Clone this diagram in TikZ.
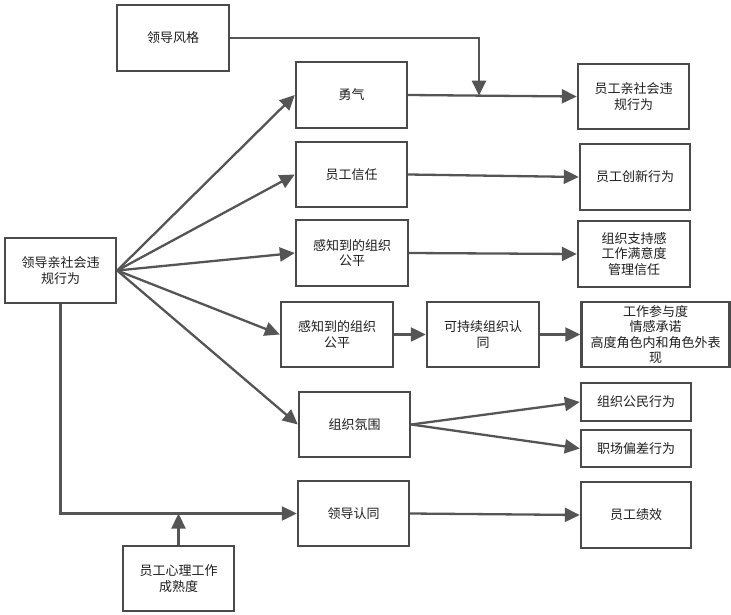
\documentclass[tikz,border=0pt]{standalone}
\usepackage{fontspec}
\setmainfont{Noto Sans CJK SC}
\usetikzlibrary{arrows.meta,calc}
\definecolor{ln}{HTML}{555555}
\definecolor{bd}{HTML}{4A4A4A}
\definecolor{tx}{HTML}{1E1E1E}
\tikzset{
  box/.style={draw=bd, line width=2.4pt, fill=white, text=tx, align=center,
    font=\fontsize{13}{15.5}\selectfont, inner sep=1pt},
  conn/.style={draw=ln, line width=2.3pt, -{Triangle[length=15pt,width=14pt]}},
}
\newcommand{\bx}[6]{\node[box, minimum width=#4pt, minimum height=#5pt, text width=#4pt-6pt] (#1) at (#2,#3) {#6};}
\begin{document}
\begin{tikzpicture}[x=1pt,y=-1pt]
\useasboundingbox (0,0) rectangle (731,615);
\bx{fg}{173}{38}{112}{66}{领导风格}
\bx{yq}{351.5}{95}{111}{66}{勇气}
\bx{outa}{633.5}{96.5}{111}{65}{员工亲社会违\\规行为}
\bx{xr}{351.5}{174.5}{111}{65}{员工信任}
\bx{outb}{635}{177}{110}{66}{员工创新行为}
\bx{gza}{352}{253}{112}{66}{感知到的组织\\公平}
\bx{outc}{634}{254}{112}{66}{组织支持感\\工作满意度\\管理信任}
\bx{src}{60.5}{270.5}{111}{65}{领导亲社会违\\规行为}
\bx{gzb}{337}{334.5}{112}{65}{感知到的组织\\公平}
\bx{kcx}{483}{334.5}{112}{65}{可持续组织认\\同}
\bx{outd}{655.5}{334.5}{148}{65}{工作参与度\\情感承诺\\高度角色内和角色外表\\现}
\bx{fw}{354.5}{424.5}{111}{65}{组织氛围}
\bx{gm}{636}{402}{110}{38}{组织公民行为}
\bx{pc}{636}{448.5}{110}{37}{职场偏差行为}
\bx{rt}{353.5}{513.5}{111}{65}{领导认同}
\bx{jx}{636}{515}{110}{66}{员工绩效}
\bx{xl}{178.5}{578.5}{111}{65}{员工心理工作\\成熟度}
% connectors
\draw[conn] (src.east) -- (yq.west);
\draw[conn] (src.east) -- (xr.west);
\draw[conn] (src.east) -- (gza.west);
\draw[conn] (src.east) -- (gzb.west);
\draw[conn] (src.east) -- (fw.west);
\draw[conn] (yq.east) -- (outa.west);
\draw[conn] (xr.east) -- (outb.west);
\draw[conn] (gza.east) -- (outc.west);
\draw[conn] (gzb.east) -- (kcx.west);
\draw[conn] (kcx.east) -- (outd.west);
\draw[conn] (fw.east) -- (gm.west);
\draw[conn] (fw.east) -- (pc.west);
\draw[conn] (rt.east) -- (jx.west);
\coordinate (mod) at ($(yq.east)!0.42!(outa.west)$);
\draw[conn] (fg.east) -| (mod);
\draw[conn] (src.south) |- (rt.west);
\draw[conn] (xl.north) -- (xl.north |- rt.west);
\end{tikzpicture}
\end{document}
